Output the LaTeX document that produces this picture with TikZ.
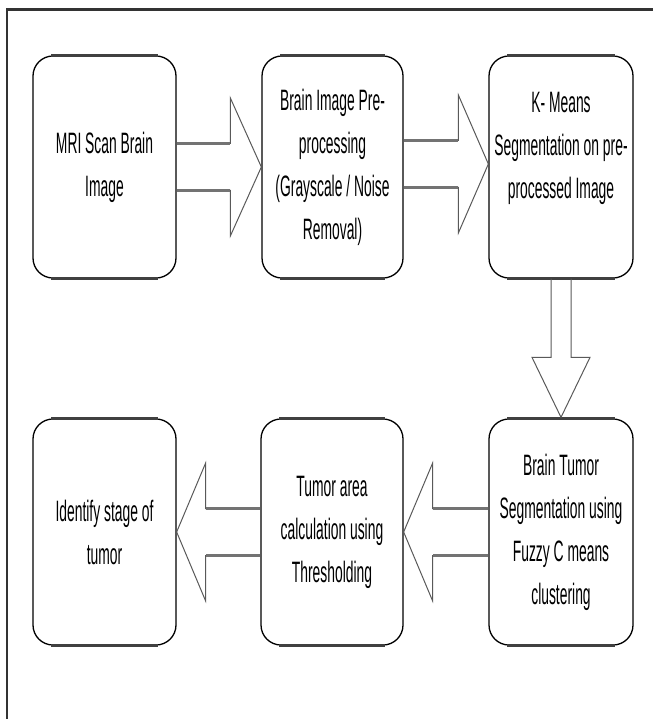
\documentclass[tikz,border=0pt]{standalone}
\usepackage{fontspec}
\setmainfont{Liberation Sans}[FakeStretch=0.47]
\usetikzlibrary{calc}
\tikzset{
  box/.style={draw=black, line width=1.3pt, rounded corners=20pt, fill=white,
    minimum width=143pt, minimum height=222pt, inner sep=0pt, align=center,
    font=\fontsize{29.5}{43}\selectfont, text=black},
  tallbox/.style={box, minimum height=226pt},
  edge/.style={line width=3pt, black!75},
  blk/.style={draw=black!65, line width=1pt, line join=miter},
  shaft/.style={line width=3pt, black!55},
  frame/.style={black!80}
}
\newcommand{\hblk}[4]{%
  \draw[blk] ($#1+(0,#4-23.5)$) -- ($#2+(#3,#4-23.5)$) -- ($#2+(#3,#4-69)$)
    -- ($#2+(0,#4)$) -- ($#2+(#3,#4+69)$) -- ($#2+(#3,#4+23.5)$) -- ($#1+(0,#4+23.5)$);
  \draw[shaft] ($#1+(0,#4-23.5)$) -- ($#2+(#3,#4-23.5)$);
  \draw[shaft] ($#1+(0,#4+23.5)$) -- ($#2+(#3,#4+23.5)$);
}
\begin{document}
\begin{tikzpicture}[x=1pt,y=-1pt]
\useasboundingbox (0,0) rectangle (653,719);
\draw[frame, line width=1.6pt] (7,719) -- (7,9.5);
\draw[frame, line width=2.6pt] (6.2,9.5) -- (653,9.5);

\node[box] (b1) at (104.5,167) {MRI Scan Brain\\Image};
\node[box, minimum width=141pt] (b2) at (332.5,167) {Brain Image Pre-\\processing\\(Grayscale / Noise\\Removal)};
\node[box, minimum width=144pt] (b3) at (561,167) {K- Means\\Segmentation on pre-\\processed Image\\\mbox{}};
\node[tallbox, minimum width=144pt] (b4) at (561,532) {Brain Tumor\\Segmentation using\\Fuzzy C means\\clustering};
\node[tallbox, minimum width=142pt] (b5) at (332,532) {Tumor area\\calculation using\\Thresholding};
\node[tallbox] (b6) at (104.5,532) {Identify stage of\\tumor};

\foreach \b in {b1,b2,b3,b4,b5,b6}{
  \draw[edge] ($(\b.north west)+(19,0)$) -- ($(\b.north east)+(-19,0)$);
  \draw[edge] ($(\b.south west)+(19,0)$) -- ($(\b.south east)+(-19,0)$);
}

\hblk{(b1.east)}{(b2.west)}{-31}{0}
\hblk{(b2.east)}{(b3.west)}{-30}{-3}
\hblk{(b4.west)}{(b5.east)}{29}{0}
\hblk{(b5.west)}{(b6.east)}{29}{0}

% down arrow
\draw[blk] ($(b3.south)+(-10,0)$) -- ($(b4.north)+(-10,-61)$) -- ($(b4.north)+(-29,-61)$)
  -- ($(b4.north)+(0,-1)$) -- ($(b4.north)+(29,-61)$) -- ($(b4.north)+(10,-61)$) -- ($(b3.south)+(10,0)$);
\end{tikzpicture}
\end{document}
